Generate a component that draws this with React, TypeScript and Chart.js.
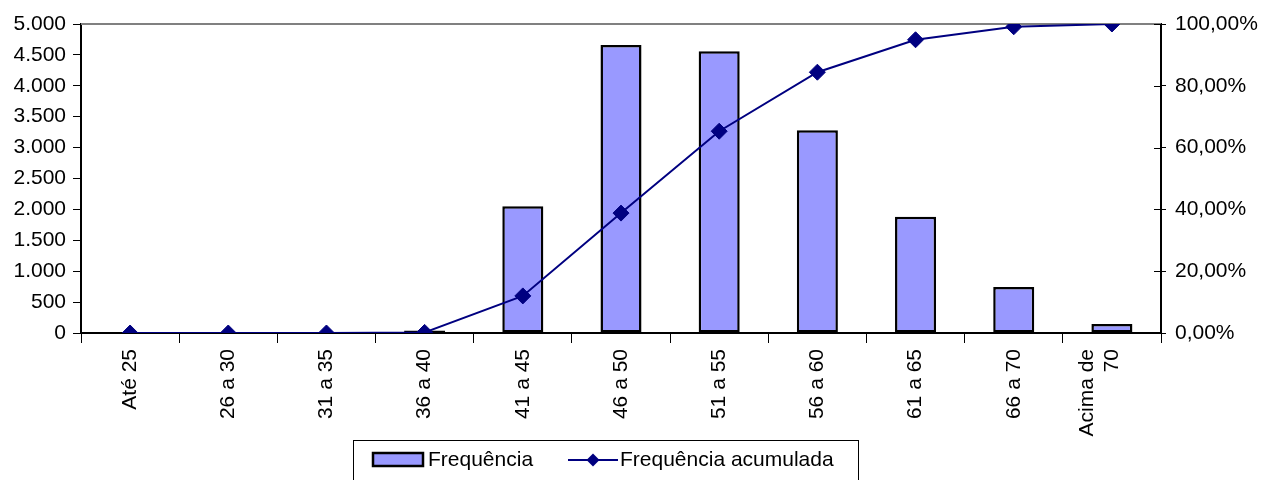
import React, { useEffect, useRef } from 'react';
import { Chart, registerables } from 'chart.js';

Chart.register(...registerables);

const categories: (string | string[])[] = [
  'Até 25', '26 a 30', '31 a 35', '36 a 40', '41 a 45', '46 a 50',
  '51 a 55', '56 a 60', '61 a 65', '66 a 70', ['Acima de', '70'],
];
const frequencia = [0, 0, 0, 40, 2050, 4660, 4560, 3280, 1880, 745, 145];
const acumulada = [0, 0, 0, 0.2, 12.0, 38.8, 65.3, 84.4, 94.9, 99.1, 100];
const leftMax = 5000;
const leftStep = 500;
const rightMax = 100;
const rightStep = 20;
const seriesNames = ['Frequência', 'Frequência acumulada'];

const BAR_FILL = '#9999FF';
const LINE = '#000080';
const FONT = '"Liberation Sans", Arial, sans-serif';
const FS = 21;

const fmtThousands = (v: number) => String(v).replace(/\B(?=(\d{3})+(?!\d))/g, '.');
const fmtPct = (v: number) => v.toFixed(2).replace('.', ',') + '%';

const decor = {
  id: 'decor',
  beforeDraw(chart: any) {
    // center multi-line rotated category labels on their tick
    const xs = chart.scales.x;
    const items = xs.getLabelItems(chart.chartArea);
    items.forEach((it: any) => {
      if (Array.isArray(it.label) && it.label.length > 1) {
        const lh = it.font.lineHeight;
        it.textOffset = -((it.label.length - 1) * lh) / 2;
      }
    });
  },
  beforeDatasetsDraw(chart: any) {
    const { ctx, chartArea: a } = chart;
    ctx.save();
    ctx.strokeStyle = '#808080';
    ctx.lineWidth = 2;
    ctx.beginPath();
    ctx.moveTo(a.left, a.top);
    ctx.lineTo(a.right, a.top);
    ctx.stroke();
    ctx.restore();
  },
  afterDraw(chart: any) {
    const { ctx, chartArea: a, scales } = chart;
    ctx.save();
    // inward tick marks on the right axis
    ctx.strokeStyle = '#000';
    ctx.lineWidth = 1;
    scales.y1.ticks.forEach((t: any) => {
      const y = Math.round(scales.y1.getPixelForValue(t.value)) + 0.5;
      ctx.beginPath();
      ctx.moveTo(a.right - 7, y);
      ctx.lineTo(a.right, y);
      ctx.stroke();
    });
    // legend
    const lx = 353, ly = 440, lw = 505, lh = 50;
    ctx.strokeStyle = '#000';
    ctx.lineWidth = 1;
    ctx.strokeRect(lx + 0.5, ly + 0.5, lw, lh);
    const cy = 460;
    ctx.fillStyle = BAR_FILL;
    ctx.fillRect(373, 453, 50, 13);
    ctx.strokeStyle = '#000';
    ctx.lineWidth = 2.5;
    ctx.strokeRect(373, 453, 50, 13);
    ctx.font = `${FS}px ${FONT}`;
    ctx.fillStyle = '#000';
    ctx.textBaseline = 'middle';
    ctx.textAlign = 'left';
    ctx.fillText(seriesNames[0], 428, cy);
    ctx.strokeStyle = LINE;
    ctx.lineWidth = 2;
    ctx.beginPath();
    ctx.moveTo(568, cy);
    ctx.lineTo(618, cy);
    ctx.stroke();
    ctx.fillStyle = LINE;
    ctx.beginPath();
    ctx.moveTo(593, cy - 6.5);
    ctx.lineTo(599.5, cy);
    ctx.lineTo(593, cy + 6.5);
    ctx.lineTo(586.5, cy);
    ctx.closePath();
    ctx.fill();
    ctx.fillStyle = '#000';
    ctx.fillText(seriesNames[1], 620, cy);
    ctx.restore();
  },
};

export default function App() {
  const ref = useRef<HTMLCanvasElement>(null);
  useEffect(() => {
    if (!ref.current) return;
    Chart.defaults.color = '#000';
    Chart.defaults.font.family = FONT;
    Chart.defaults.font.size = FS;
    const chart = new Chart(ref.current, {
      type: 'bar',
      data: {
        labels: categories as any,
        datasets: [
          {
            type: 'line',
            label: seriesNames[1],
            data: acumulada,
            yAxisID: 'y1',
            borderColor: LINE,
            backgroundColor: LINE,
            borderWidth: 2,
            pointStyle: 'rectRot',
            pointRadius: 8,
            pointBorderWidth: 1,
            pointBackgroundColor: LINE,
            pointBorderColor: LINE,
            tension: 0,
            order: 0,
          } as any,
          {
            type: 'bar',
            label: seriesNames[0],
            data: frequencia,
            yAxisID: 'y',
            backgroundColor: BAR_FILL,
            borderColor: '#000',
            borderWidth: 2.5,
            borderSkipped: false,
            barPercentage: 0.418,
            categoryPercentage: 1,
            order: 1,
          } as any,
        ],
      },
      options: {
        responsive: false,
        animation: false,
        devicePixelRatio: 1,
        layout: { padding: { top: 24, left: 0, right: 0, bottom: 0 } },
        plugins: {
          legend: { display: false },
          tooltip: { enabled: false },
        },
        scales: {
          x: {
            offset: true,
            grid: {
              offset: true,
              drawOnChartArea: false,
              drawTicks: true,
              tickLength: 10,
              color: '#000',
              lineWidth: 1,
            },
            border: { display: true, color: '#000', width: 2 },
            ticks: {
              autoSkip: false,
              minRotation: 90,
              maxRotation: 90,
              padding: 6,
              font: { size: FS, family: FONT },
              color: '#000',
            },
            afterFit: (s: any) => { s.height = 147; },
          },
          y: {
            position: 'left',
            min: 0,
            max: leftMax,
            grid: {
              drawOnChartArea: false,
              drawTicks: true,
              tickLength: 8,
              color: '#000',
            },
            border: { display: true, color: '#000', width: 2 },
            ticks: {
              stepSize: leftStep,
              padding: 7,
              font: { size: FS, family: FONT },
              color: '#000',
              callback: (v: any) => fmtThousands(Number(v)),
            },
            afterFit: (s: any) => { s.width = 81; },
          },
          y1: {
            position: 'right',
            min: 0,
            max: rightMax,
            grid: {
              drawOnChartArea: false,
              drawTicks: true,
              tickLength: 5,
              color: '#000',
            },
            border: { display: true, color: '#000', width: 2 },
            ticks: {
              stepSize: rightStep,
              padding: 9,
              font: { size: FS, family: FONT },
              color: '#000',
              callback: (v: any) => fmtPct(Number(v)),
            },
            afterFit: (s: any) => { s.width = 104; },
          },
        },
      },
      plugins: [decor],
    });
    return () => chart.destroy();
  }, []);
  return (
    <div style={{ position: 'absolute', left: 0, top: 0, width: 1265, height: 480, background: '#fff' }}>
      <canvas ref={ref} width={1265} height={480} style={{ display: 'block' }} />
    </div>
  );
}
